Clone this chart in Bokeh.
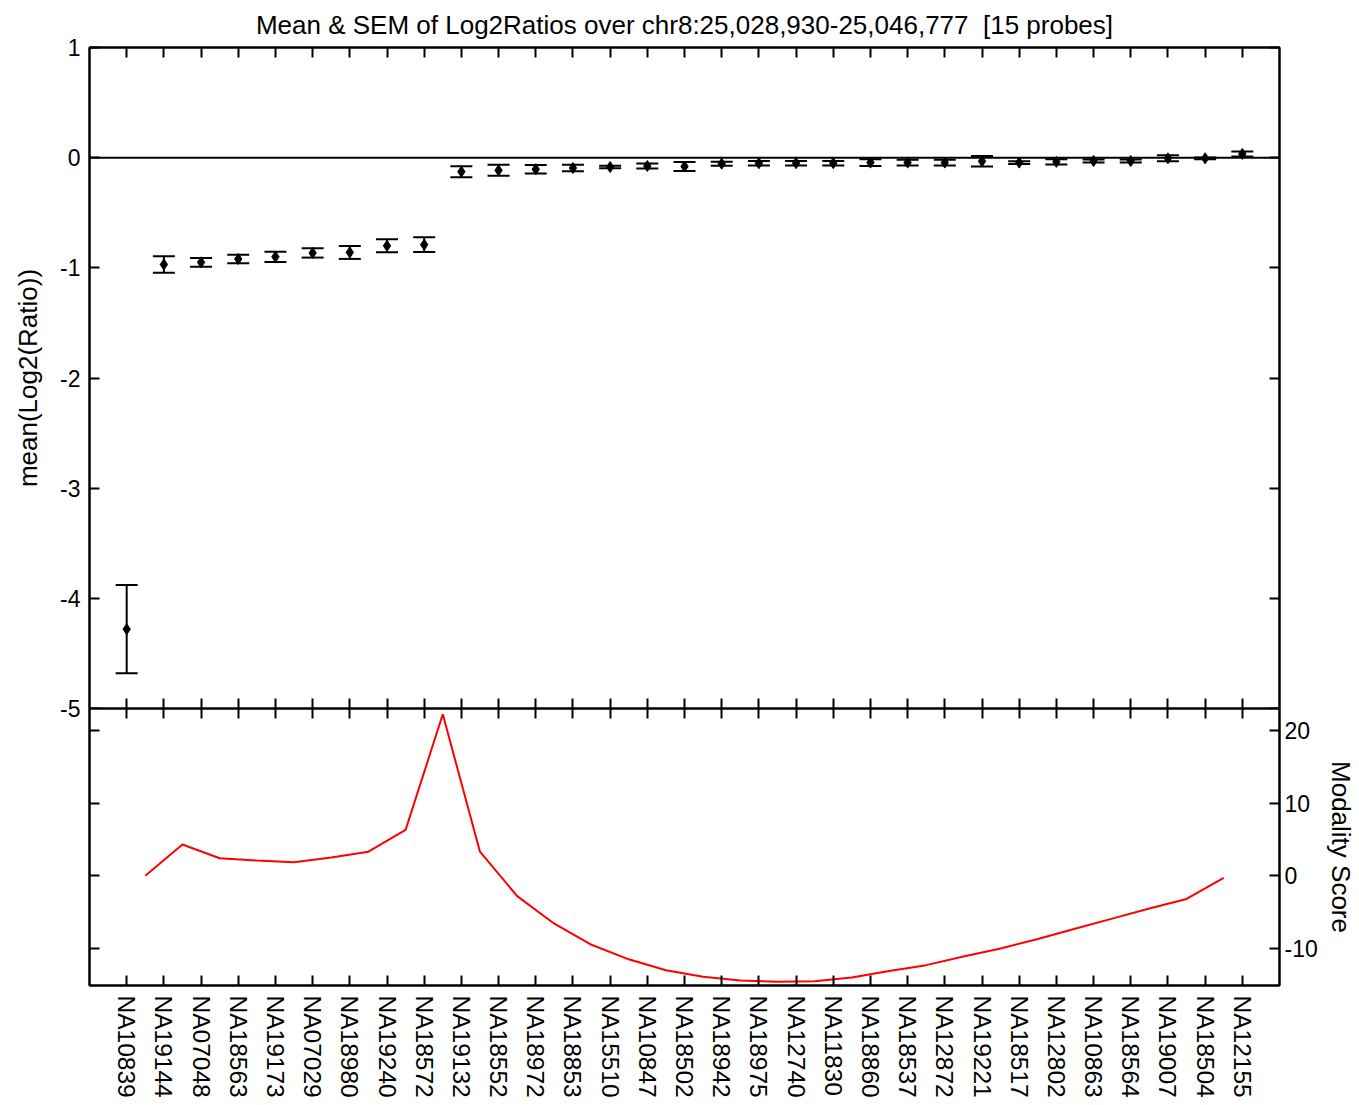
import math
from bokeh.plotting import figure
from bokeh.models import (Range1d, LinearAxis, FixedTicker, Whisker, TeeHead,
                          Span, ColumnDataSource, Grid)
from bokeh.layouts import column
from bokeh.embed import file_html
from bokeh.resources import INLINE

# ---------------- data ----------------
samples = ["NA10839", "NA19144", "NA07048", "NA18563", "NA19173", "NA07029",
           "NA18980", "NA19240", "NA18572", "NA19132", "NA18552", "NA18972",
           "NA18853", "NA15510", "NA10847", "NA18502", "NA18942", "NA18975",
           "NA12740", "NA11830", "NA18860", "NA18537", "NA12872", "NA19221",
           "NA18517", "NA12802", "NA10863", "NA18564", "NA19007", "NA18504",
           "NA12155"]
log2_mean = [-4.28, -0.97, -0.95, -0.92, -0.90, -0.865, -0.86, -0.80, -0.79,
             -0.127, -0.115, -0.105, -0.094, -0.085, -0.076, -0.08, -0.055,
             -0.051, -0.05, -0.05, -0.045, -0.045, -0.045, -0.033, -0.045,
             -0.038, -0.03, -0.03, -0.006, -0.006, 0.034]
log2_sem = [0.40, 0.075, 0.04, 0.038, 0.047, 0.042, 0.059, 0.059, 0.067,
            0.05, 0.05, 0.038, 0.03, 0.012, 0.023, 0.04, 0.018, 0.02, 0.02,
            0.02, 0.03, 0.027, 0.027, 0.048, 0.012, 0.024, 0.014, 0.014,
            0.027, 0.008, 0.023]
modality = [0.0, 4.3, 2.4, 2.1, 1.85, 2.5, 3.3, 6.3, 22.2, 3.3, -2.8, -6.6,
            -9.5, -11.5, -13.0, -13.9, -14.4, -14.6, -14.5, -14.0, -13.1,
            -12.3, -11.1, -10.0, -8.7, -7.3, -5.9, -4.5, -3.2, -0.3]
log2_ticks = [-5, -4, -3, -2, -1, 0, 1]
modality_ticks = [-10, 0, 10, 20]
title_text = "Mean & SEM of Log2Ratios over chr8:25,028,930-25,046,777 \u00a0[15 probes]"

FONT = "Liberation Sans"
TICK_FS = "23px"
XLABEL_FS = "24.5px"
LABEL_FS = "26px"

x_pos = list(range(1, len(samples) + 1))
mid_pos = [i + 0.5 for i in x_pos[:-1]]
label_map = {i: s for i, s in zip(x_pos, samples)}

xr = Range1d(0, len(samples) + 1)

FIG_W = 1358
LEFT_B = 89
RIGHT_B = 79
OVERLAP = 14


def add_axis(p, loc, ticks, labels=False, overrides=None, axis_label=None,
             orientation=None, font_size=TICK_FS, standoff=8, label_standoff=10):
    ax = LinearAxis(ticker=FixedTicker(ticks=ticks))
    ax.major_tick_in = 10
    ax.major_tick_out = 0
    ax.minor_tick_line_color = None
    ax.axis_line_width = 2
    ax.axis_line_color = "black"
    ax.major_tick_line_width = 2
    ax.major_tick_line_color = "black"
    if labels:
        ax.major_label_text_font = FONT
        ax.major_label_text_font_size = font_size
        ax.major_label_text_color = "black"
        ax.major_label_standoff = standoff
        ax.major_label_overrides = overrides if overrides else {t: str(t) for t in ticks}
    else:
        ax.major_label_text_font_size = "0px"
        ax.major_label_text_color = None
        ax.major_label_standoff = 0
    if orientation is not None:
        ax.major_label_orientation = orientation
    if axis_label:
        ax.axis_label = axis_label
        ax.axis_label_text_font = FONT
        ax.axis_label_text_font_size = LABEL_FS
        ax.axis_label_text_font_style = "normal"
        ax.axis_label_text_color = "black"
        ax.axis_label_standoff = label_standoff
    p.add_layout(ax, loc)
    return ax


def style(p):
    p.outline_line_color = "black"
    p.outline_line_width = 2
    p.background_fill_color = "white"
    for g in p.select(type=Grid):
        g.visible = False


# ---------------- top panel ----------------
top = figure(width=FIG_W, height=708 + OVERLAP, x_range=xr, y_range=Range1d(-5, 1),
             output_backend="svg", toolbar_location=None,
             x_axis_location=None, y_axis_location=None,
             min_border_left=LEFT_B, min_border_right=RIGHT_B, min_border_top=47,
             min_border_bottom=OVERLAP, title=title_text)
top.title.text_font = FONT
top.title.text_font_size = LABEL_FS
top.title.text_font_style = "normal"
top.title.text_color = "black"
top.title.align = "center"
top.title.standoff = 15
top.border_fill_color = "white"

add_axis(top, "left", log2_ticks, labels=True, axis_label="mean(Log2(Ratio))",
         standoff=9, label_standoff=14)
add_axis(top, "right", log2_ticks)
add_axis(top, "above", x_pos)
add_axis(top, "below", x_pos)
style(top)

top.add_layout(Span(location=0, dimension="width", line_color="black",
                    line_width=2))

src = ColumnDataSource(dict(
    x=x_pos, mean=log2_mean,
    upper=[m + s for m, s in zip(log2_mean, log2_sem)],
    lower=[m - s for m, s in zip(log2_mean, log2_sem)]))
top.add_layout(Whisker(base="x", upper="upper", lower="lower", source=src,
                       line_color="black", line_width=2,
                       upper_head=TeeHead(size=22, line_width=2, line_color="black"),
                       lower_head=TeeHead(size=22, line_width=2, line_color="black")))
top.scatter("x", "mean", source=src, marker="diamond", size=11, color="black")

# ---------------- bottom panel ----------------
bot = figure(width=FIG_W, height=392, x_range=xr, y_range=Range1d(-15.1, 23),
             output_backend="svg", toolbar_location=None,
             x_axis_location=None, y_axis_location=None,
             min_border_left=LEFT_B, min_border_right=RIGHT_B, min_border_top=0,
             min_border_bottom=0, margin=(-OVERLAP, 0, 0, 0))
bot.border_fill_color = None

add_axis(bot, "left", modality_ticks)
add_axis(bot, "right", modality_ticks, labels=True, axis_label="Modality Score",
         standoff=5, label_standoff=5)
add_axis(bot, "above", x_pos)
add_axis(bot, "below", x_pos, labels=True, overrides=label_map,
         orientation=-math.pi / 2, font_size=XLABEL_FS, standoff=10)
style(bot)

bot.line(mid_pos, modality, line_color="#ff0000", line_width=2)

layout = column(top, bot, spacing=0)

open("out.html", "w").write(file_html(layout, INLINE))
